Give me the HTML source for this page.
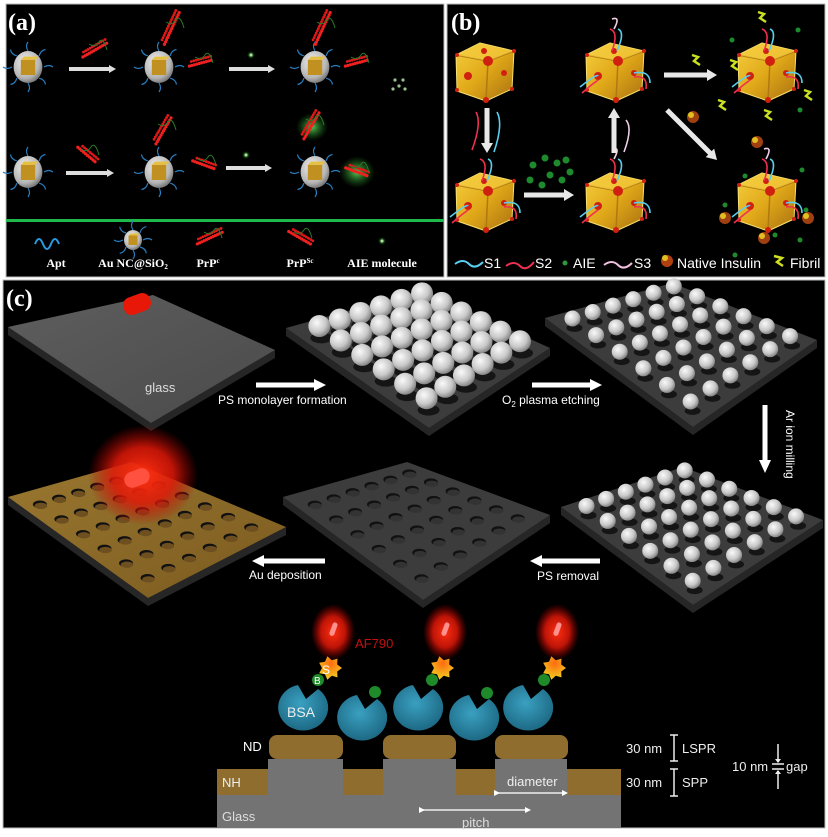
<!DOCTYPE html>
<html><head><meta charset="utf-8">
<style>
html,body{margin:0;padding:0;background:#fff;}
svg{display:block;}
text{font-family:"Liberation Sans",sans-serif;}
.ser{font-family:"Liberation Serif",serif;font-weight:bold;}
</style></head>
<body>
<svg id="s" width="828" height="837" viewBox="0 0 828 837" xmlns="http://www.w3.org/2000/svg">
<defs>
<radialGradient id="sph" cx="0.38" cy="0.35" r="0.7">
<stop offset="0" stop-color="#fafafa"/><stop offset="0.6" stop-color="#c8c8c8"/><stop offset="1" stop-color="#7a7a7a"/></radialGradient>
<radialGradient id="shell" cx="0.4" cy="0.35" r="0.7">
<stop offset="0" stop-color="#f0f0f0"/><stop offset="0.7" stop-color="#b5b5b5"/><stop offset="1" stop-color="#6a6a6a"/></radialGradient>
<linearGradient id="gold" x1="0" y1="0" x2="1" y2="1">
<stop offset="0" stop-color="#f5d040"/><stop offset="0.5" stop-color="#e0a818"/><stop offset="1" stop-color="#a87010"/></linearGradient>
<radialGradient id="glow" cx="0.5" cy="0.5" r="0.5">
<stop offset="0" stop-color="#ff3010" stop-opacity="1"/><stop offset="0.55" stop-color="#e01808" stop-opacity="0.85"/><stop offset="1" stop-color="#c00000" stop-opacity="0"/></radialGradient>
<radialGradient id="gglow" cx="0.5" cy="0.5" r="0.5">
<stop offset="0" stop-color="#60e060" stop-opacity="0.9"/><stop offset="1" stop-color="#208020" stop-opacity="0"/></radialGradient>
<radialGradient id="bsa" cx="0.45" cy="0.4" r="0.6">
<stop offset="0" stop-color="#3aa0c0"/><stop offset="1" stop-color="#1d6a85"/></radialGradient>
<radialGradient id="star" cx="0.5" cy="0.3" r="0.7">
<stop offset="0" stop-color="#ff6a10"/><stop offset="1" stop-color="#f0d020"/></radialGradient>
<linearGradient id="glassg" x1="0" y1="0" x2="1" y2="1">
<stop offset="0" stop-color="#5e5e5e"/><stop offset="1" stop-color="#4a4a4a"/></linearGradient>
<linearGradient id="goldp" x1="0" y1="0" x2="1" y2="1">
<stop offset="0" stop-color="#9a7830"/><stop offset="1" stop-color="#7a5a20"/></linearGradient>
<marker id="ah" markerWidth="4" markerHeight="4" refX="2" refY="2" orient="auto" markerUnits="strokeWidth"><path d="M0,0 L4,2 L0,4 Z" fill="#fff"/></marker>
</defs>

<rect x="6" y="4" width="438" height="273" fill="#000" stroke="#bbb" stroke-width="1"/>
<rect x="447" y="4" width="378" height="273" fill="#000" stroke="#bbb" stroke-width="1"/>
<rect x="3" y="280" width="822" height="548" fill="#000" stroke="#bbb" stroke-width="1"/>
<rect x="6" y="219" width="438" height="3" fill="#1fb84a"/>

<text class="ser" x="8" y="30" fill="#fff" font-size="24">(a)</text>
<text class="ser" x="451" y="30" fill="#fff" font-size="24">(b)</text>
<text class="ser" x="6" y="306" fill="#fff" font-size="24">(c)</text>

<g id="pa"></g>
<g id="pb"></g>
<g id="pc"></g>

<path d="M40,246 q4,-10 8,0 q4,10 8,0 q4,-10 8,0" stroke="#2a9ae0" stroke-width="2" fill="none" transform="translate(-5,-2)"/>
<g font-size="12" fill="#fff">
<text class="ser" x="56" y="267" text-anchor="middle" fill="#fff">Apt</text>
<text class="ser" x="133" y="267" text-anchor="middle" fill="#fff">Au NC@SiO<tspan font-size="7" dy="2">2</tspan></text>
<text class="ser" x="208" y="267" text-anchor="middle" fill="#fff">PrP<tspan font-size="7" dy="-4">c</tspan></text>
<text class="ser" x="300" y="267" text-anchor="middle" fill="#fff">PrP<tspan font-size="7" dy="-4">Sc</tspan></text>
<text class="ser" x="382" y="267" text-anchor="middle" fill="#fff">AIE molecule</text>
</g>

<g font-size="14" fill="#fff">
<path d="M455,264 q8,-6 14,0 t14,-2" stroke="#5ad0f0" stroke-width="2" fill="none"/>
<text x="484" y="268" fill="#fff">S1</text>
<path d="M506,266 q8,-6 14,0 t14,-4" stroke="#f03050" stroke-width="2" fill="none"/>
<text x="535" y="268" fill="#fff">S2</text>
<circle cx="565" cy="263" r="2.5" fill="#2a9a3a"/>
<text x="573" y="268" fill="#fff">AIE</text>
<path d="M604,265 q8,-6 14,0 t14,-2" stroke="#f0c0e0" stroke-width="2" fill="none"/>
<text x="634" y="268" fill="#fff">S3</text>
<circle cx="667" cy="261" r="6" fill="#b04010"/><circle cx="665" cy="258" r="3" fill="#e0c020"/>
<text x="677" y="268" fill="#fff">Native Insulin</text>
<path d="M774,256 l8,2 -5,4 6,4" stroke="#d0e020" stroke-width="2.5" fill="none"/>
<text x="790" y="268" fill="#fff">Fibril</text>
</g>

<g font-size="12" fill="#fff">
<text x="145" y="392" fill="#ddd" font-size="13">glass</text>
<text x="218" y="404" fill="#fff">PS monolayer formation</text>
<text x="502" y="404" fill="#fff">O<tspan font-size="8" dy="3">2</tspan><tspan dy="-3"> plasma etching</tspan></text>
<text x="537" y="580" fill="#fff">PS removal</text>
<text x="249" y="579" fill="#fff">Au deposition</text>
<text transform="translate(786,410) rotate(90)" fill="#fff">Ar ion milling</text>
</g>
<g stroke="#fff" stroke-width="5" fill="none">
<line x1="256" y1="385" x2="316" y2="385"/>
<line x1="532" y1="385" x2="592" y2="385"/>
<line x1="600" y1="561" x2="540" y2="561"/>
<line x1="325" y1="561" x2="262" y2="561"/>
<line x1="765" y1="405" x2="765" y2="462"/>
</g>
<g fill="#fff">
<path d="M314,379 L326,385 L314,391Z"/>
<path d="M590,379 L602,385 L590,391Z"/>
<path d="M542,555 L530,561 L542,567Z"/>
<path d="M264,555 L252,561 L264,567Z"/>
<path d="M759,460 L765,473 L771,460Z"/>
</g>

<g>
<rect x="217" y="795" width="404" height="33" fill="#737373"/>
<rect x="217" y="769" width="404" height="26" fill="#8e6d2e"/>
<rect x="268" y="759" width="75" height="36" fill="#737373"/>
<rect x="383" y="759" width="73" height="36" fill="#737373"/>
<rect x="495" y="759" width="72" height="36" fill="#737373"/>
<rect x="269" y="735" width="74" height="24" rx="8" fill="#8e6d2e"/>
<rect x="383" y="735" width="73" height="24" rx="8" fill="#8e6d2e"/>
<rect x="495" y="735" width="73" height="24" rx="8" fill="#8e6d2e"/>
</g>
<g font-size="13" fill="#ddd">
<text x="243" y="751" fill="#fff">ND</text>
<text x="222" y="787" fill="#eee">NH</text>
<text x="222" y="821" fill="#ddd">Glass</text>
<text x="507" y="786" fill="#eee">diameter</text>
<text x="462" y="827" fill="#ddd">pitch</text>
<text x="355" y="648" fill="#c01010">AF790</text>
<text x="287" y="717" fill="#eee" font-size="14">BSA</text>
<text x="626" y="753" fill="#eee">30 nm</text>
<text x="682" y="753" fill="#eee">LSPR</text>
<text x="626" y="787" fill="#eee">30 nm</text>
<text x="682" y="787" fill="#eee">SPP</text>
<text x="732" y="771" fill="#eee">10 nm</text>
<text x="786" y="771" fill="#eee">gap</text>
</g>
<g stroke="#eee" stroke-width="1.5" fill="none">
<line x1="497" y1="793" x2="565" y2="793" marker-end="url(#ah)" marker-start="url(#ah)"/>
<line x1="422" y1="810" x2="528" y2="810" marker-end="url(#ah)" marker-start="url(#ah)"/>
<path d="M670,735 h8 M674,735 v26 M670,761 h8 M670,769 h8 M674,769 v27 M670,796 h8"/>
<path d="M772,764 h12 M772,769 h12 M778,744 v18 M778,771 v18"/>
</g>
<g fill="#eee"><path d="M775,759 l3,4 3,-4z"/><path d="M775,774 l3,-4 3,4z"/></g>
</svg>

<script>
var NS="http://www.w3.org/2000/svg";
function el(parent,tag,attrs){var e=document.createElementNS(NS,tag);for(var k in attrs)e.setAttribute(k,attrs[k]);parent.appendChild(e);return e;}
var pa=document.getElementById('pa'),pb=document.getElementById('pb'),pc=document.getElementById('pc');

function particle(g,cx,cy,r){
  [[-1,0],[1,0],[0,-1],[0,1],[-0.7,-0.7],[0.7,0.7],[-0.7,0.7],[0.7,-0.7]].forEach(function(d){
    el(g,'path',{d:'M'+(cx+d[0]*r)+','+(cy+d[1]*r)+' q'+(d[0]*5+d[1]*3)+','+(d[1]*5-d[0]*3)+' '+(d[0]*9)+','+(d[1]*9),stroke:'#2a7fc0','stroke-width':1.2,fill:'none'});
  });
  el(g,'ellipse',{cx:cx,cy:cy,rx:r*0.9,ry:r,fill:'url(#shell)'});
  el(g,'rect',{x:cx-r*0.45,y:cy-r*0.45,width:r*0.9,height:r*0.95,fill:'#c09020'});
  el(g,'path',{d:'M'+(cx-r*0.45)+','+(cy-r*0.45)+' l'+(r*0.2)+','+(-r*0.2)+' h'+(r*0.9)+' l'+(-r*0.2)+','+(r*0.2)+'z',fill:'#e8c040'});
}
function protein(g,cx,cy,ang,len){
  var a=ang*Math.PI/180;
  for(var i=-len;i<=len;i+=2.5){el(g,'circle',{cx:cx+Math.cos(a)*i,cy:cy+Math.sin(a)*i,r:1.6,fill:'#f02020'});}
  for(var i=-len+3;i<=len;i+=2.5){el(g,'circle',{cx:cx+Math.cos(a)*i+Math.sin(a)*4,cy:cy+Math.sin(a)*i-Math.cos(a)*4,r:1.4,fill:'#e01818'});}
  el(g,'path',{d:'M'+(cx-6)+','+(cy-6)+' q6,4 10,-2 t8,8',stroke:'#2a7a2a','stroke-width':1,fill:'none'});
}
[[28,67],[159,67],[315,67],[28,172],[159,172],[315,172]].forEach(function(p){particle(pa,p[0],p[1],16);});
[[69,116,69],[229,275,69],[66,114,173],[226,272,168]].forEach(function(a){
  el(pa,'line',{x1:a[0],y1:a[2],x2:a[1]-6,y2:a[2],stroke:'#ddd','stroke-width':4});
  el(pa,'path',{d:'M'+(a[1]-7)+','+(a[2]-4)+' L'+a[1]+','+a[2]+' L'+(a[1]-7)+','+(a[2]+4)+'Z',fill:'#ddd'});
});
el(pa,'ellipse',{cx:312,cy:127,rx:16,ry:14,fill:'url(#gglow)'});
el(pa,'ellipse',{cx:357,cy:172,rx:18,ry:16,fill:'url(#gglow)'});
[[95,50,-30,14],[172,28,-65,18],[201,63,-15,12],[323,28,-65,18],[357,63,-15,12],[87,155,40,12],[164,130,-60,16],[204,165,20,12],[312,125,-60,16],[357,172,20,12],[210,238,-25,14],[300,238,30,13]].forEach(function(p){protein(pa,p[0],p[1],p[2],p[3]);});
[[251,55],[246,155],[382,241]].forEach(function(p){el(pa,'circle',{cx:p[0],cy:p[1],r:4,fill:'url(#gglow)'});el(pa,'circle',{cx:p[0],cy:p[1],r:1.5,fill:'#b0e0a0'});});
[[395,80],[403,80],[399,86],[393,89],[405,89]].forEach(function(p){el(pa,'circle',{cx:p[0],cy:p[1],r:1.6,fill:'#9ac090'});});
particle(pa,133,240,10);

function cube(g,x,y){
  el(g,'path',{d:'M'+(x+2)+','+(y+12)+' L'+(x+26)+','+y+' L'+(x+60)+','+(y+8)+' L'+(x+58)+','+(y+46)+' L'+(x+32)+','+(y+58)+' L'+(x+3)+','+(y+48)+'Z',fill:'url(#gold)',stroke:'#f8e070','stroke-width':1,'stroke-linejoin':'round'});
  el(g,'path',{d:'M'+(x+2)+','+(y+12)+' L'+(x+34)+','+(y+18)+' L'+(x+60)+','+(y+8)+' M'+(x+34)+','+(y+18)+' L'+(x+32)+','+(y+58),stroke:'#b07810','stroke-width':1.5,fill:'none'});
  el(g,'path',{d:'M'+(x+2)+','+(y+12)+' L'+(x+26)+','+y+' L'+(x+60)+','+(y+8)+' L'+(x+34)+','+(y+18)+'Z',fill:'#f5cc40',opacity:0.7});
  [[30,8,3],[34,18,5],[14,33,4],[50,30,3],[32,57,3],[3,12,2],[60,8,2],[3,47,2],[58,46,2]].forEach(function(d){el(g,'circle',{cx:x+d[0],cy:y+d[1],r:d[2],fill:'#d02010'});});
}
function strand(g,x1,y1,x2,y2,c){el(g,'path',{d:'M'+x1+','+y1+' Q'+((x1+x2)/2+8)+','+((y1+y2)/2-8)+' '+x2+','+y2,stroke:c,'stroke-width':1.6,fill:'none'});}
[[454,43],[584,43],[736,43],[454,173],[584,173],[736,173]].forEach(function(p,i){
  cube(pb,p[0],p[1]);
  if(i>0){
    strand(pb,p[0]+28,p[1]+8,p[0]+26,p[1]-14,'#f03050');strand(pb,p[0]+33,p[1]+8,p[0]+34,p[1]-14,'#5ad0f0');
    strand(pb,p[0]+14,p[1]+33,p[0]-4,p[1]+44,'#5ad0f0');strand(pb,p[0]+14,p[1]+38,p[0]-2,p[1]+50,'#f03050');
    strand(pb,p[0]+50,p[1]+30,p[0]+66,p[1]+40,'#5ad0f0');strand(pb,p[0]+50,p[1]+34,p[0]+62,p[1]+46,'#f03050');
  }
  if(i==1||i>=4){strand(pb,p[0]+30,p[1]-14,p[0]+28,p[1]-24,'#f0d0e8');}
});
function arr(g,x1,y1,x2,y2){
  var a=Math.atan2(y2-y1,x2-x1),c=Math.cos(a),s=Math.sin(a);
  el(g,'line',{x1:x1,y1:y1,x2:x2-c*8,y2:y2-s*8,stroke:'#e8e8e8','stroke-width':5});
  el(g,'path',{d:'M'+x2+','+y2+' L'+(x2-c*10-s*6)+','+(y2-s*10+c*6)+' L'+(x2-c*10+s*6)+','+(y2-s*10-c*6)+'Z',fill:'#e8e8e8'});
}
arr(pb,487,108,487,153);arr(pb,524,195,574,195);arr(pb,614,153,614,108);arr(pb,664,75,717,75);arr(pb,667,110,717,160);
strand(pb,476,112,472,150,'#f03050');strand(pb,497,112,494,152,'#5ad0f0');strand(pb,626,120,624,152,'#f0d0e8');
[[533,165],[545,158],[557,163],[530,180],[550,175],[562,180],[542,185],[570,172],[566,160]].forEach(function(p){el(pb,'circle',{cx:p[0],cy:p[1],r:3.5,fill:'#1e8a2e'});});
[[732,40],[798,30],[800,110],[745,176],[802,170],[725,205],[806,210],[735,255],[775,235],[800,240]].forEach(function(p){el(pb,'circle',{cx:p[0],cy:p[1],r:2.5,fill:'#1e8a2e'});});
[[692,55],[730,60],[804,90],[718,100],[764,110],[758,12]].forEach(function(p){el(pb,'path',{d:'M'+p[0]+','+p[1]+' l6,2 -4,4 6,4',stroke:'#c8e020','stroke-width':2.5,fill:'none'});});
[[693,117],[757,142],[725,218],[808,218],[764,238]].forEach(function(p){el(pb,'circle',{cx:p[0],cy:p[1],r:6,fill:'#a04010'});el(pb,'circle',{cx:p[0]-2,cy:p[1]-2,r:3,fill:'#e0c020'});});

function plate(g,L,T,R,B,fill,th){
  el(g,'path',{d:'M'+L+' L'+B+' L'+R+' L'+R[0]+','+(R[1]+th)+' L'+B[0]+','+(B[1]+th)+' L'+L[0]+','+(L[1]+th)+'Z',fill:'#262626'});
  el(g,'path',{d:'M'+L+' L'+T+' L'+R+' L'+B+'Z',fill:fill});
}
function mp(P,u,v){
  var L=P[0],T=P[1],R=P[2],B=P[3];
  return [(1-u)*(1-v)*L[0]+u*(1-v)*T[0]+u*v*R[0]+(1-u)*v*B[0],
          (1-u)*(1-v)*L[1]+u*(1-v)*T[1]+u*v*R[1]+(1-u)*v*B[1]];
}
var P1=[[8,327],[153,295],[275,350],[151,423]];
var P2=[[286,328],[423,290],[550,348],[429,428]];
var P3=[[545,318],[672,283],[817,340],[693,427]];
var P4=[[561,507],[683,467],[823,520],[693,605]];
var P5=[[283,497],[407,462],[550,515],[423,600]];
var P6=[[8,497],[132,462],[286,527],[148,598]];
plate(pc,P1[0],P1[1],P1[2],P1[3],'url(#glassg)',8);
[P2,P3,P4,P5].forEach(function(P){plate(pc,P[0],P[1],P[2],P[3],'#3c3c3c',8);});
plate(pc,P6[0],P6[1],P6[2],P6[3],'url(#goldp)',8);
var kind2='#333';
function grid(P,n,r,kind,m){
  var arr2=[];
  for(var i=0;i<n;i++)for(var j=0;j<n;j++){arr2.push(mp(P,m+(1-2*m)*i/(n-1),m+(1-2*m)*j/(n-1)));}
  arr2.sort(function(a,b){return a[1]-b[1];});
  arr2.forEach(function(p){
    if(kind=='hole'){el(pc,'ellipse',{cx:p[0],cy:p[1],rx:r,ry:r*0.55,fill:'#111'});el(pc,'ellipse',{cx:p[0]+1,cy:p[1]+1.5,rx:r*0.9,ry:r*0.45,fill:kind2});}
    else{el(pc,'ellipse',{cx:p[0]+2,cy:p[1]+3,rx:r,ry:r*0.5,fill:'#151515'});el(pc,'circle',{cx:p[0],cy:p[1]-r*0.8,r:r,fill:'url(#sph)'});}
  });
}
grid(P2,6,11,'sph',0.12);grid(P3,6,8,'sph',0.1);grid(P4,6,8,'sph',0.1);
kind2='#333';grid(P5,6,7,'hole',0.12);kind2='#6e5020';grid(P6,6,7,'hole',0.12);
el(pc,'ellipse',{cx:143,cy:475,rx:55,ry:50,fill:'url(#glow)'});
el(pc,'rect',{x:123,y:295,width:28,height:18,rx:8,fill:'#e81808',transform:'rotate(-20 137 304)'});
el(pc,'rect',{x:124,y:470,width:26,height:16,rx:8,fill:'#ff5040',transform:'rotate(-20 137 478)'});

[333,445,557].forEach(function(x){
  el(pc,'ellipse',{cx:x,cy:632,rx:22,ry:28,fill:'url(#glow)'});
  el(pc,'rect',{x:x-2,y:622,width:5,height:14,rx:2.5,fill:'#ff9090',transform:'rotate(20 '+x+' 629)'});
  var pts=[];for(var k=0;k<14;k++){var a=k*Math.PI/7,rr=(k%2?8:12);pts.push((x-3+Math.cos(a)*rr)+','+(668+Math.sin(a)*rr));}
  el(pc,'polygon',{points:pts.join(' '),fill:'url(#star)'});
});
el(pc,'text',{x:322,y:674,fill:'#fff','font-size':12,'font-family':'Liberation Sans'}).textContent='S';
[[304,707],[363,717],[419,707],[475,717],[529,707]].forEach(function(p){
  el(pc,'path',{d:'M'+(p[0]-6)+','+(p[1]-22)+' A25,23 0 1 0 '+(p[0]+14)+','+(p[1]-18)+' L'+(p[0]+2)+','+(p[1]-8)+'Z',fill:'url(#bsa)'});
});
[[318,680],[375,692],[432,680],[487,693],[544,680]].forEach(function(p){el(pc,'circle',{cx:p[0],cy:p[1],r:6,fill:'#1e8a2a'});});
el(pc,'text',{x:314,y:684,fill:'#fff','font-size':10,'font-family':'Liberation Sans'}).textContent='B';
</script>
</body></html>
